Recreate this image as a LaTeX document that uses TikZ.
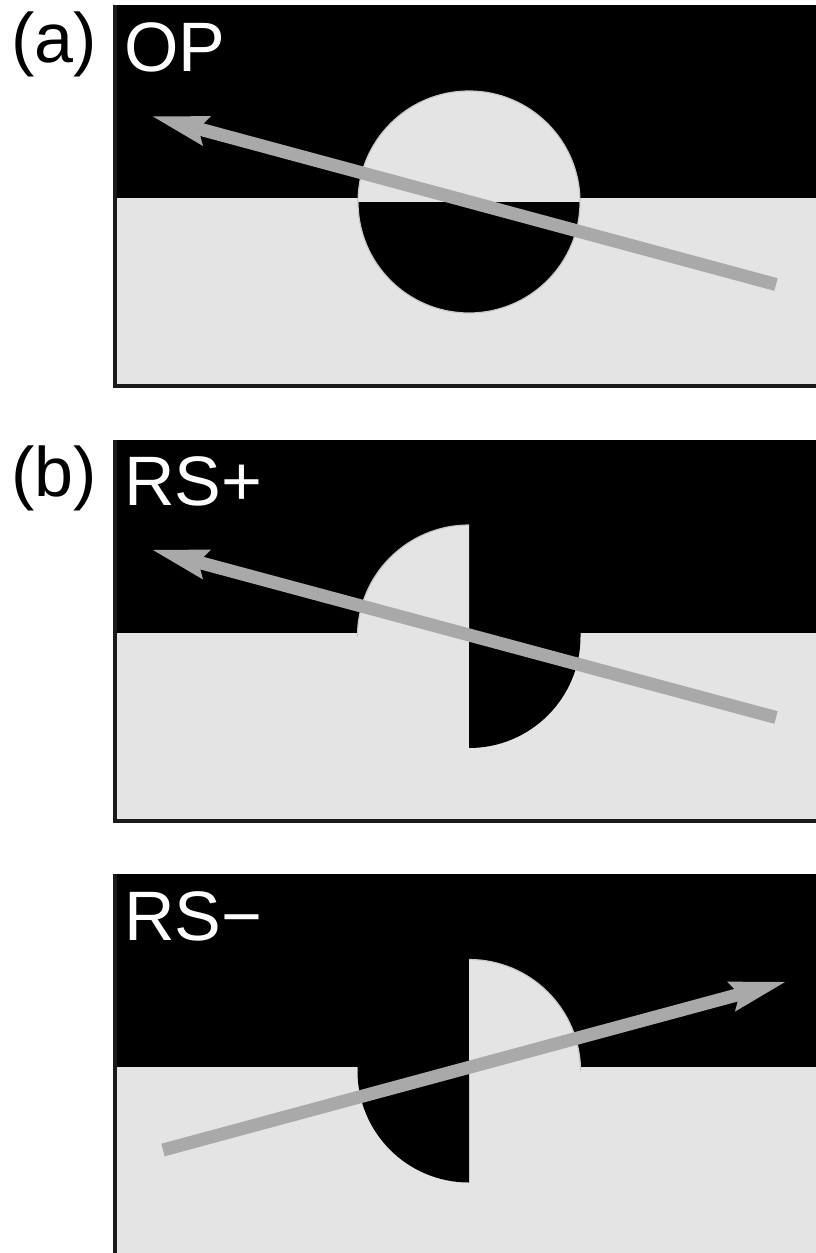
\documentclass[tikz,border=0pt]{standalone}
\usepackage{fontspec}
\setmainfont{Liberation Sans}
\usetikzlibrary{arrows.meta}
\definecolor{lg}{HTML}{E4E4E4}
\definecolor{ag}{HTML}{A9A9A9}
\definecolor{bd}{HTML}{1A1A1A}
\definecolor{rim}{HTML}{C8C8C8}
\begin{document}
\begin{tikzpicture}[x=1pt,y=-1pt,
  lbl/.style={inner sep=0pt, anchor=base west, font=\fontsize{70}{70}\selectfont},
  beam/.style={draw=ag, line width=13pt,
    -{Stealth[length=56pt,width=31pt,inset=9pt,line width=0pt]}},
  frame/.style={draw=bd, line width=4pt, line join=miter},
  rimline/.style={draw=rim, line width=1.2pt}]
\useasboundingbox (0,0) rectangle (816,1253);
\clip (0,0) rectangle (816,1253);
\fill[white] (0,0) rectangle (816,1253);

% ---------- panel (a) ----------
\fill[black] (113,5) rectangle (816,198);
\fill[lg] (113,198) rectangle (816,386);
\draw[frame] (115,5) -- (115,386) -- (820,386);
\fill[lg] (358,202) arc[start angle=180,end angle=360,radius=111] -- cycle;
\fill[black] (358,202) arc[start angle=180,end angle=0,radius=111] -- cycle;
\draw[rimline] (469,202) circle[radius=111];
\coordinate (atail) at (776,284.5);
\coordinate (atip) at (153,116.5);
\draw[beam] (atail) -- (atip);
\node[lbl] (la) at (11,62) {(a)};
\node[lbl,white] (op) at (124,71) {OP};

% ---------- panel (b) ----------
\fill[black] (113,439.5) rectangle (816,632.5);
\fill[lg] (113,632.5) rectangle (816,820.5);
\draw[frame] (115,439.5) -- (115,820.5) -- (820,820.5);
\fill[lg] (469,636.5) -- (357.5,636.5) arc[start angle=180,end angle=270,radius=111.5] -- cycle;
\draw[rimline] (357.5,636.5) arc[start angle=180,end angle=270,radius=111.5];
\fill[black] (469,632.5) -- (580.5,632.5) -- (580.5,636.5) arc[start angle=0,end angle=90,radius=111.5] -- cycle;
\coordinate (btail) at (776,717.5);
\coordinate (btip) at (153,550);
\draw[beam] (btail) -- (btip);
\node[lbl] (lb) at (11,496.5) {(b)};
\node[lbl,white] (rsp) at (124,505.5) {RS+};

% ---------- panel (c) ----------
\fill[black] (113,874) rectangle (816,1067);
\fill[lg] (113,1067) rectangle (816,1256);
\draw[frame] (115,874) -- (115,1254.5) -- (820,1254.5);
\fill[lg] (469,1071) -- (580.5,1071) arc[start angle=0,end angle=-90,radius=111.5] -- cycle;
\draw[rimline] (580.5,1071) arc[start angle=0,end angle=-90,radius=111.5];
\fill[black] (469,1067) -- (357.5,1067) -- (357.5,1071) arc[start angle=180,end angle=90,radius=111.5] -- cycle;
\coordinate (ctail) at (163,1150);
\coordinate (ctip) at (785,982);
\draw[beam] (ctail) -- (ctip);
\node[lbl,white] (rsm) at (124,940) {RS−};
\end{tikzpicture}
\end{document}
